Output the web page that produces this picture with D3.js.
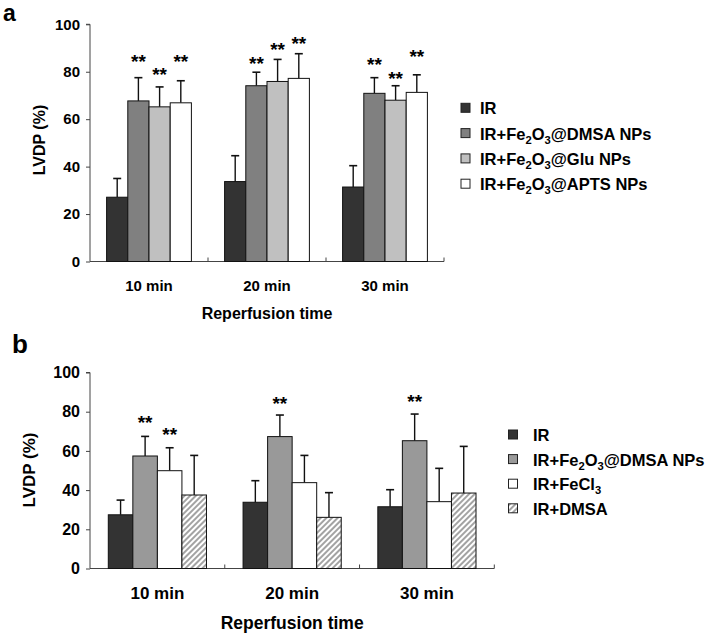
<!DOCTYPE html>
<html>
<head>
<meta charset="utf-8">
<script src="https://cdn.jsdelivr.net/npm/d3@7"></script>
<style>
  body { margin: 0; background: #fff; }
  svg { display: block; font-family: "Liberation Sans", Arial, sans-serif; font-weight: bold; }
</style>
</head>
<body>
<svg id="chart" width="717" height="636"></svg>
<script>
// ---------- data ----------
const categories = ["10 min", "20 min", "30 min"];
const yTicks = [0, 20, 40, 60, 80, 100];

// Panel a
const seriesA = ["IR", "IR+Fe2O3@DMSA NPs", "IR+Fe2O3@Glu NPs", "IR+Fe2O3@APTS NPs"];
const irA    = [27.1, 33.7, 31.4];
const dmsaA  = [67.7, 74.1, 70.9];
const gluA   = [65.2, 75.9, 68.0];
const aptsA  = [66.9, 77.2, 71.3];
const irAErr   = [7.9, 10.9, 9.0];
const dmsaAErr = [9.8, 5.7, 6.6];
const gluAErr  = [8.4, 9.3, 6.1];
const aptsAErr = [9.3, 10.4, 7.4];
// height (in LVDP %) of the "**" marks
const irAStar   = [null, null, null];
const dmsaAStar = [85.4, 84.5, 84.0];
const gluAStar  = [80.0, 90.4, 78.3];
const aptsAStar = [85.4, 93.1, 87.6];

// Panel b
const seriesB = ["IR", "IR+Fe2O3@DMSA NPs", "IR+FeCl3", "IR+DMSA"];
const irB     = [27.4, 33.8, 31.5];
const dmsaB   = [57.4, 67.3, 65.2];
const fecl3B  = [49.9, 43.8, 34.1];
const dmsaOnlyB = [37.5, 26.1, 38.5];
const irBErr     = [7.5, 11.0, 8.7];
const dmsaBErr   = [10.0, 11.0, 13.6];
const fecl3BErr  = [11.7, 13.9, 17.0];
const dmsaOnlyBErr = [20.2, 12.6, 23.8];
const irBStar     = [null, null, null];
const dmsaBStar   = [75.8, 85.5, 86.3];
const fecl3BStar  = [69.5, null, null];
const dmsaOnlyBStar = [null, null, null];

const starLabel = "**";

// ---------- drawing ----------
const svg = d3.select("#chart");
const defs = svg.append("defs");
defs.append("pattern")
  .attr("id", "hatch")
  .attr("patternUnits", "userSpaceOnUse")
  .attr("width", 4).attr("height", 4)
  .attr("patternTransform", "rotate(45)")
  .call(p => {
    p.append("rect").attr("width", 4).attr("height", 4).attr("fill", "#fff");
    p.append("line").attr("x1", 1).attr("y1", 0).attr("x2", 1).attr("y2", 4)
      .attr("stroke", "#8c8c8c").attr("stroke-width", 1.6);
  });

function addLabel(sel, text, subSize, subShift) {
  const parts = text.split(/(\d)/).filter(s => s.length);
  let sub = false;
  parts.forEach(p => {
    const isDigit = /^\d$/.test(p);
    const t = sel.append("tspan").text(p);
    if (isDigit && !sub) { t.attr("dy", subShift).attr("font-size", subSize); sub = true; }
    else if (isDigit && sub) { t.attr("font-size", subSize); }
    else if (!isDigit && sub) { t.attr("dy", -subShift); sub = false; }
  });
}

function drawPanel(cfg) {
  const g = svg.append("g");
  const x = d3.scaleBand().domain(categories).range([cfg.x0, cfg.x1]).padding(0);
  const inner = d3.scaleBand().domain(cfg.series).range([cfg.innerPad, x.bandwidth() - cfg.innerPad]).padding(0);
  const y = d3.scaleLinear().domain([0, 100]).range([cfg.yB, cfg.yT]);

  // y axis
  const yAxis = g.append("g").attr("transform", `translate(${cfg.x0},0)`)
    .call(d3.axisLeft(y).tickValues(yTicks).tickSize(4).tickPadding(6).tickFormat(d3.format("d")));
  yAxis.select(".domain").attr("stroke", "#444").attr("d", `M-4,${y(100)}H0V${y(0)}`);
  yAxis.selectAll(".tick line").attr("stroke", "#444");
  yAxis.selectAll(".tick text").attr("font-size", cfg.tickFont).attr("fill", "#000")
    .attr("font-family", "Liberation Sans, Arial, sans-serif").attr("font-weight", "bold");

  // x axis line with small inner ticks at group boundaries
  g.append("line").attr("x1", cfg.x0).attr("x2", cfg.x1)
    .attr("y1", y(0)).attr("y2", y(0)).attr("stroke", "#444");
  categories.forEach(c => {
    const xb = x(c) + x.bandwidth();
    g.append("line").attr("x1", xb).attr("x2", xb).attr("y1", y(0)).attr("y2", y(0) - 4).attr("stroke", "#444");
  });

  // bars
  cfg.series.forEach((s, si) => {
    const vals = cfg.values[si], errs = cfg.errors[si], stars = cfg.stars[si];
    categories.forEach((c, ci) => {
      const bx = x(c) + inner(s);
      const bw = inner.bandwidth();
      const v = vals[ci], e = errs[ci];
      // error bar
      g.append("line").attr("x1", bx + bw / 2).attr("x2", bx + bw / 2)
        .attr("y1", y(v)).attr("y2", y(v + e)).attr("stroke", "#111").attr("stroke-width", 1.4);
      g.append("line").attr("x1", bx + bw / 2 - 4).attr("x2", bx + bw / 2 + 4)
        .attr("y1", y(v + e)).attr("y2", y(v + e)).attr("stroke", "#111").attr("stroke-width", 1.6);
      g.append("rect").attr("x", bx).attr("y", y(v)).attr("width", bw).attr("height", y(0) - y(v))
        .attr("fill", cfg.fills[si]).attr("stroke", "#111").attr("stroke-width", 1);
      if (stars[ci] != null) {
        g.append("text").attr("x", bx + bw / 2).attr("y", y(stars[ci]) + 9)
          .attr("text-anchor", "middle").attr("font-size", 19).text(starLabel);
      }
    });
  });

  // category labels
  categories.forEach(c => {
    g.append("text").attr("x", x(c) + x.bandwidth() / 2).attr("y", cfg.catY)
      .attr("text-anchor", "middle").attr("font-size", cfg.catFont).text(c);
  });
  g.append("text").attr("x", (cfg.x0 + cfg.x1) / 2).attr("y", cfg.titleY)
    .attr("text-anchor", "middle").attr("font-size", cfg.titleFont).text("Reperfusion time");
  g.append("text").attr("transform", `translate(${cfg.yLabX},${cfg.yLabY}) rotate(-90)`)
    .attr("text-anchor", "middle").attr("dy", "0.35em").attr("font-size", cfg.yLabFont).text("LVDP (%)");
  g.append("text").attr("x", cfg.letterX).attr("y", cfg.letterY).attr("font-size", cfg.letterFont).text(cfg.letter);

  // legend
  cfg.series.forEach((s, si) => {
    const cy = cfg.legY + si * cfg.legStep;
    g.append("rect").attr("x", cfg.legX).attr("y", cy - 5).attr("width", 9).attr("height", 9)
      .attr("fill", cfg.fills[si]).attr("stroke", "#222").attr("stroke-width", 1);
    const t = g.append("text").attr("x", cfg.legTextX).attr("y", cy + 6).attr("font-size", cfg.legFont);
    addLabel(t, s, cfg.legFont * 0.68, 4);
  });
}

drawPanel({
  series: seriesA,
  values: [irA, dmsaA, gluA, aptsA],
  errors: [irAErr, dmsaAErr, gluAErr, aptsAErr],
  stars: [irAStar, dmsaAStar, gluAStar, aptsAStar],
  fills: ["#333333", "#808080", "#c0c0c0", "#ffffff"],
  x0: 90, x1: 444, yT: 24.3, yB: 261.5, innerPad: 16.6,
  tickFont: 15, catFont: 15, catY: 290.5, titleFont: 16, titleY: 318.5,
  yLabX: 39, yLabY: 140, yLabFont: 16,
  letter: "a", letterX: 3, letterY: 21, letterFont: 23,
  legX: 461, legTextX: 480, legY: 108.3, legStep: 25.3, legFont: 16.5
});

drawPanel({
  series: seriesB,
  values: [irB, dmsaB, fecl3B, dmsaOnlyB],
  errors: [irBErr, dmsaBErr, fecl3BErr, dmsaOnlyBErr],
  stars: [irBStar, dmsaBStar, fecl3BStar, dmsaOnlyBStar],
  fills: ["#333333", "#999999", "#ffffff", "url(#hatch)"],
  x0: 90, x1: 494.3, yT: 372.5, yB: 568.5, innerPad: 18.3,
  tickFont: 16, catFont: 17, catY: 599.3, titleFont: 17.5, titleY: 629,
  yLabX: 29, yLabY: 470, yLabFont: 17,
  letter: "b", letterX: 12, letterY: 353, letterFont: 26,
  legX: 508.5, legTextX: 533, legY: 435, legStep: 24.6, legFont: 16.5
});
</script>
</body>
</html>
